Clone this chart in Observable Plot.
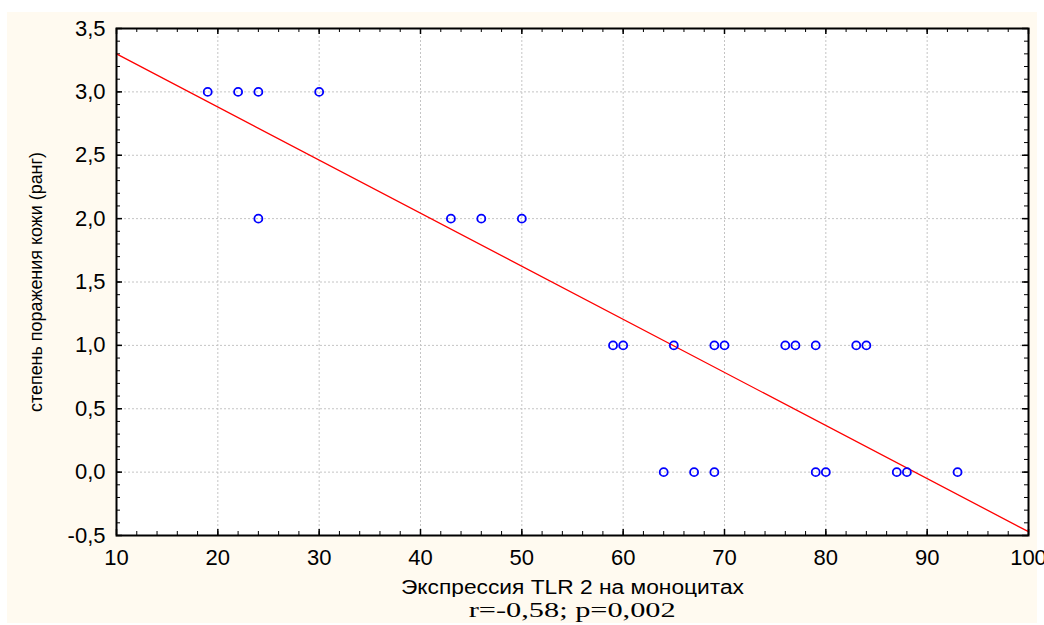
<!DOCTYPE html>
<html>
<head>
<meta charset="utf-8">
<script src="https://cdn.jsdelivr.net/npm/d3@7"></script>
<script src="https://cdn.jsdelivr.net/npm/@observablehq/plot@0.6"></script>
<style>
  html, body { margin: 0; padding: 0; background: #ffffff; }
  #bg { position: absolute; left: 7px; top: 12px; width: 1030px; height: 611px; background: #fffaf0; }
  #chart { position: absolute; left: 0; top: 0; }
  #caption { position: absolute; left: 0; width: 1144px; top: 599px; text-align: center; line-height: 22px; }
  #caption span { display: inline-block; font-family: "Liberation Serif", "Times New Roman", serif;
                  font-size: 20px; color: #000; transform-origin: center; }
</style>
</head>
<body>
<div id="bg"></div>
<div id="chart"></div>
<div id="caption"><span id="captext">r=-0,58; p=0,002</span></div>
<script>
// Data
const tlr2 = [19, 22, 24, 30, 24, 43, 46, 50, 59, 60, 65, 69, 70, 76, 77, 79, 83, 84, 64, 67, 69, 79, 80, 87, 88, 93];
const rank = [3, 3, 3, 3, 2, 2, 2, 2, 1, 1, 1, 1, 1, 1, 1, 1, 1, 1, 0, 0, 0, 0, 0, 0, 0, 0];
// Fitted regression line (end points)
const fitX = [10, 100];
const fitY = [3.30, -0.47];
const xTicks = [10, 20, 30, 40, 50, 60, 70, 80, 90, 100];
const yTicks = [-0.5, 0, 0.5, 1, 1.5, 2, 2.5, 3, 3.5];
const xLabel = "Экспрессия TLR 2 на моноцитах";
const yLabel = "степень поражения кожи (ранг)";

const points = tlr2.map((x, i) => ({x, y: rank[i]}));
const fit = fitX.map((x, i) => ({x, y: fitY[i]}));
const minorX = d3.range(10, 100.001, 2);
const minorY = d3.range(-0.5, 3.5001, 0.1);

const W = 1044, H = 597, mL = 116, mR = 16, mT = 28, mB = 62;
const plotH = H - mT - mB, plotW = W - mL - mR;
const sans = "'Liberation Sans', Arial, sans-serif";

const chart = Plot.plot({
  width: W, height: H,
  marginLeft: mL, marginRight: mR, marginTop: mT, marginBottom: mB,
  style: {background: "transparent", color: "#000", fontFamily: sans},
  x: {domain: [10, 100]},
  y: {domain: [-0.5, 3.5]},
  marks: [
    Plot.frame({fill: "#ffffff", stroke: null}),
    Plot.gridX(xTicks, {stroke: "#c4c4c4", strokeOpacity: 1, strokeDasharray: "2,2"}),
    Plot.gridY(yTicks, {stroke: "#c4c4c4", strokeOpacity: 1, strokeDasharray: "2,2"}),
    // minor ticks, inward on all four sides
    Plot.ruleX(minorX, {x: d => d, insetTop: plotH - 4, stroke: "#000"}),
    Plot.ruleX(minorX, {x: d => d, insetBottom: plotH - 4, stroke: "#000"}),
    Plot.ruleY(minorY, {y: d => d, insetRight: plotW - 4, stroke: "#000"}),
    Plot.ruleY(minorY, {y: d => d, insetLeft: plotW - 4, stroke: "#000"}),
    // major ticks
    Plot.ruleX(xTicks, {x: d => d, insetTop: plotH - 6, stroke: "#000", strokeWidth: 1.5}),
    Plot.ruleX(xTicks, {x: d => d, insetBottom: plotH - 6, stroke: "#000", strokeWidth: 1.5}),
    Plot.ruleY(yTicks, {y: d => d, insetRight: plotW - 6, stroke: "#000", strokeWidth: 1.5}),
    Plot.ruleY(yTicks, {y: d => d, insetLeft: plotW - 6, stroke: "#000", strokeWidth: 1.5}),
    Plot.axisX(xTicks, {anchor: "bottom", tickSize: 0, tickPadding: 14, fontSize: 22,
      fontFamily: sans, label: null, tickFormat: d => String(d)}),
    Plot.axisY(yTicks, {anchor: "left", tickSize: 0, tickPadding: 11, fontSize: 22,
      fontFamily: sans, label: null,
      tickFormat: d => d.toFixed(1).replace(".", ",").replace("-0,0", "0,0")}),
    Plot.text([xLabel], {frameAnchor: "bottom", dy: 58, fontSize: 20, fontFamily: sans, fill: "#000"}),
    Plot.text([yLabel], {frameAnchor: "left", textAnchor: "middle", rotate: -90, dx: -81,
      fontSize: 19, fontFamily: sans, fill: "#000"}),
    Plot.line(fit, {x: "x", y: "y", stroke: "#ff0000", strokeWidth: 1.3}),
    Plot.dot(points, {x: "x", y: "y", r: 4, stroke: "#0000ff", strokeWidth: 1.8, fill: "none"}),
    Plot.frame({stroke: "#000", strokeWidth: 2})
  ]
});
document.getElementById("chart").appendChild(chart);

// fit label widths to the reference
chart.querySelectorAll("text").forEach(t => {
  if (t.textContent === xLabel) { t.setAttribute("textLength", 343); t.setAttribute("lengthAdjust", "spacingAndGlyphs"); }
  if (t.textContent === yLabel) { t.setAttribute("textLength", 260); t.setAttribute("lengthAdjust", "spacingAndGlyphs"); }
});
const cap = document.getElementById("captext");
const cw = cap.getBoundingClientRect().width;
cap.style.transform = `scaleX(${207 / cw})`;
</script>
</body>
</html>
